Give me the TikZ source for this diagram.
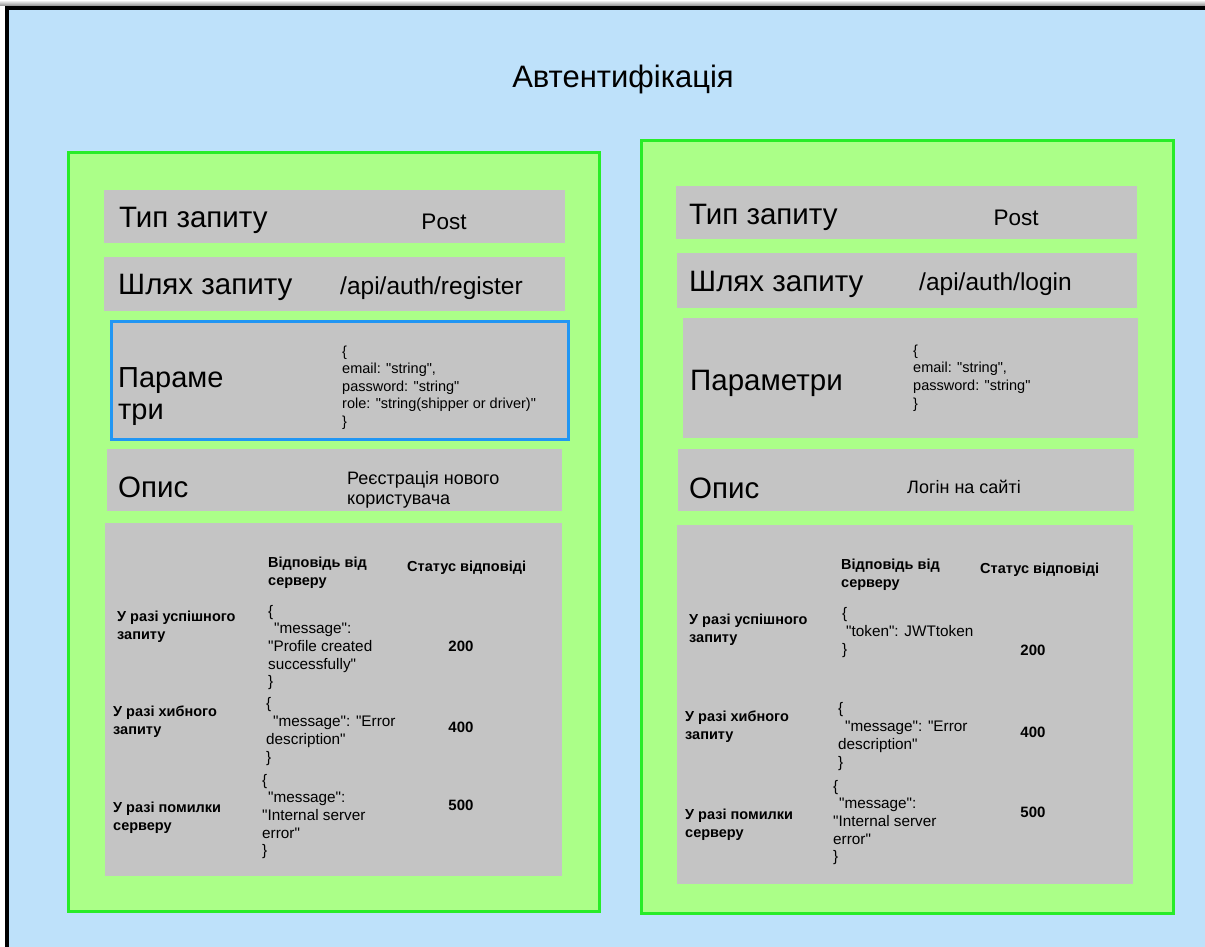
\documentclass[tikz,border=0pt]{standalone}
\usepackage{fontspec}
\setmainfont{Liberation Sans}[Ligatures=TeXOff]
\definecolor{skyblue}{RGB}{190,225,250}
\definecolor{pfill}{RGB}{171,255,136}
\definecolor{pedge}{RGB}{40,236,40}
\definecolor{cgray}{RGB}{196,196,196}
\definecolor{pblue}{RGB}{33,150,243}
\begin{document}
\begin{tikzpicture}[x=1pt,y=-1pt,
  panel/.style={draw=pedge,fill=pfill,line width=3pt,anchor=north west,inner sep=0pt},
  cell/.style={fill=cgray,anchor=north west,inner sep=0pt},
  big/.style={anchor=west,inner sep=0pt,font=\fontsize{29.5}{32}\selectfont,text height=21pt,text depth=0pt},
  bigml/.style={anchor=west,inner sep=0pt,align=left,font=\fontsize{29}{32}\selectfont},
  val/.style={inner sep=0pt,font=\fontsize{22.5}{26}\selectfont,text height=16pt,text depth=0pt},
  pathv/.style={val,anchor=west,font=\fontsize{24.5}{28}\selectfont},
  desc/.style={anchor=west,inner sep=0pt,align=left,font=\fontsize{18}{19.5}\selectfont},
  pjson/.style={anchor=west,inner sep=0pt,align=left,font=\fontsize{14.5}{17.6}\selectfont},
  rjson/.style={anchor=west,inner sep=0pt,align=left,font=\fontsize{15.3}{17.7}\selectfont},
  thd/.style={anchor=west,inner sep=0pt,align=left,font=\bfseries\fontsize{14.5}{18}\selectfont},
  code/.style={inner sep=0pt,font=\bfseries\fontsize{15}{18}\selectfont,text height=11pt,text depth=0pt}
]
\useasboundingbox (0,0) rectangle (1205,947);
\clip (0,0) rectangle (1205,947);
% page, top shadow and framed sheet
\fill[white] (0,0) rectangle (1205,947);
\shade[top color=white,bottom color=black!45] (0,0) rectangle (1205,6);
\fill[skyblue] (7,8) rectangle (1205,947);
\draw[black,line width=4pt] (7,960) -- (7,8) -- (1220,8);

% title
\node[inner sep=0pt,font=\fontsize{31}{34}\selectfont,text height=22pt,text depth=0pt] (title) at (623,77) {Автентифікація};

% ---------- register panel ----------
\node[panel,minimum width=531pt,minimum height=759pt] (lpanel) at (67,151) {};
\node[cell,minimum width=461pt,minimum height=53pt] (ltype) at (104,190) {};
\node[cell,minimum width=461pt,minimum height=54pt] (lpath) at (104,257) {};
\node[cell,draw=pblue,line width=3pt,minimum width=457pt,minimum height=118pt] (lpar) at (110,320) {};
\node[cell,minimum width=455pt,minimum height=62pt] (ldesc) at (107,449) {};
\node[cell,minimum width=457pt,minimum height=353pt] (lresp) at (105,523) {};

\node[big] (ltypek) at (119,217) {Тип запиту};
\node[val] (ltypev) at (444,221) {Post};
\node[big] (lpathk) at (118,284) {Шлях запиту};
\node[pathv] (lpathv) at (340,286) {/api/auth/register};
\node[bigml] (lpark) at (118,397) {Параме\\три};
\node[pjson] (lparv) at (342,387.5) {\{\\email: "string",\\password: "string"\\role: "string(shipper or driver)"\\\}};
\node[big] (ldesck) at (118,487) {Опис};
\node[desc] (ldescv) at (347,490) {Реєстрація нового\\користувача};

\node[thd] (lh1) at (268,572.5) {Відповідь від\\серверу};
\node[thd] (lh2) at (407,568) {Статус відповіді};
\node[thd] (lr1) at (117,627) {У разі успішного\\запиту};
\node[rjson] (lj1) at (268,647.5) {\{\\\hspace*{6pt}"message":\\"Profile created\\successfully"\\\}};
\node[code] (lc1) at (461,646) {200};
\node[thd] (lr2) at (113,722) {У разі хибного\\запиту};
\node[rjson] (lj2) at (266,731.5) {\{\\\hspace*{7pt}"message": "Error\\description"\\\}};
\node[code] (lc2) at (461,727) {400};
\node[thd] (lr3) at (113,818) {У разі помилки\\серверу};
\node[rjson] (lj3) at (262,816.5) {\{\\\hspace*{6pt}"message":\\"Internal server\\error"\\\}};
\node[code] (lc3) at (461,805) {500};

% ---------- login panel ----------
\node[panel,minimum width=532pt,minimum height=773pt] (rpanel) at (640,139) {};
\node[cell,minimum width=461pt,minimum height=53pt] (rtype) at (676,186) {};
\node[cell,minimum width=460pt,minimum height=55pt] (rpath) at (677,253) {};
\node[cell,minimum width=455pt,minimum height=120pt] (rpar) at (683,318) {};
\node[cell,minimum width=456pt,minimum height=62pt] (rdesc) at (678,449) {};
\node[cell,minimum width=456pt,minimum height=359pt] (rresp) at (677,525) {};

\node[big] (rtypek) at (689,214) {Тип запиту};
\node[val] (rtypev) at (1016,217) {Post};
\node[big] (rpathk) at (689,281) {Шлях запиту};
\node[pathv] (rpathv) at (919,282) {/api/auth/login};
\node[big] (rpark) at (690,380) {Параметри};
\node[pjson] (rparv) at (913,378) {\{\\email: "string",\\password: "string"\\\}};
\node[big] (rdesck) at (689,488) {Опис};
\node[desc] (rdescv) at (907,487) {Логін на сайті};

\node[thd] (rh1) at (841,574.5) {Відповідь від\\серверу};
\node[thd] (rh2) at (980,570) {Статус відповіді};
\node[thd] (rr1) at (689,630) {У разі успішного\\запиту};
\node[rjson] (rj1) at (842,632.5) {\{\\\hspace*{4pt}"token": JWTtoken\\\}};
\node[code] (rc1) at (1033,650) {200};
\node[thd] (rr2) at (685,727) {У разі хибного\\запиту};
\node[rjson] (rj2) at (838,736.5) {\{\\\hspace*{7pt}"message": "Error\\description"\\\}};
\node[code] (rc2) at (1033,732) {400};
\node[thd] (rr3) at (685,825) {У разі помилки\\серверу};
\node[rjson] (rj3) at (833,822.5) {\{\\\hspace*{6pt}"message":\\"Internal server\\error"\\\}};
\node[code] (rc3) at (1033,812) {500};
\end{tikzpicture}
\end{document}
